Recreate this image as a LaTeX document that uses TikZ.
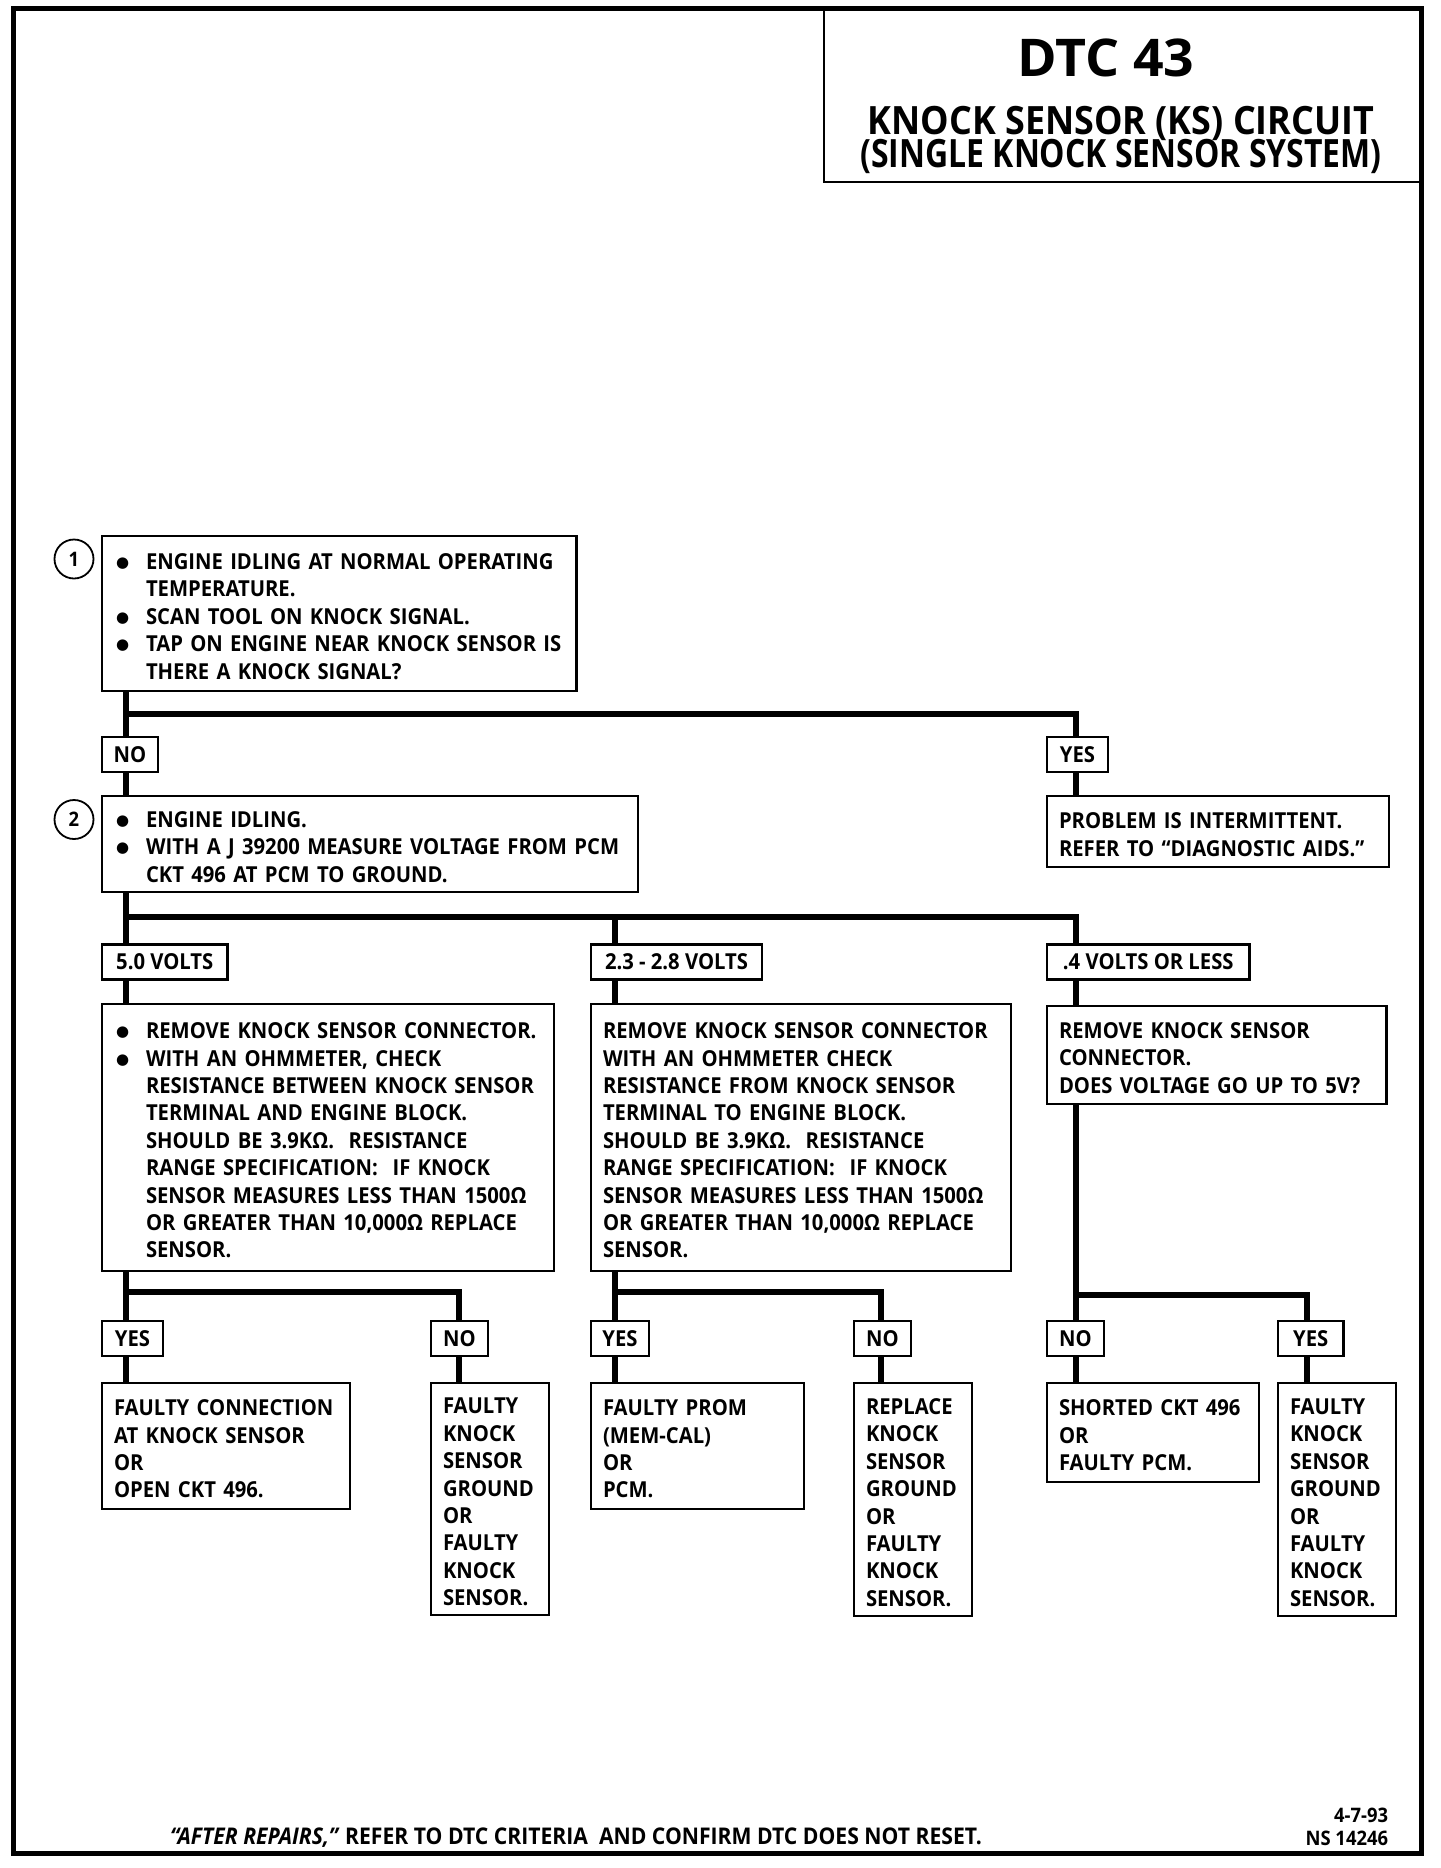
\documentclass[tikz,border=0pt]{standalone}
\usepackage{fontspec}
\newfontfamily\dfont{Open Sans}[FakeStretch=0.92]
\newfontfamily\symf{DejaVu Sans}
\newcommand\tightls{\lineskiplimit=-30pt\relax}
\tikzset{
  every node/.style={inner sep=0pt, outer sep=0pt},
  frame/.style={line width=2.5pt},
  box/.style={draw, line width=1.1pt, anchor=north west, align=left, inner xsep=6pt, inner ysep=0pt,
     font=\dfont\bfseries\fontsize{11}{13.7}\selectfont,
     execute at begin node={\rule{0pt}{11pt}}},
  bbox/.style={box, inner xsep=7pt},
  lbl/.style={draw, line width=1.1pt, anchor=north west, inner sep=0pt, align=center, minimum height=17.5pt,
     font=\dfont\bfseries\fontsize{11}{13.7}\selectfont},
  conn/.style={line width=3pt},
  stepnum/.style={draw, circle, line width=0.9pt, minimum size=19.5pt, font=\dfont\bfseries\fontsize{10}{12}\selectfont},
  ttl/.style={font=\dfont\bfseries},
  foot/.style={font=\dfont\bfseries\fontsize{10}{12}\selectfont},
}
\newcommand\bl{\makebox[15pt][l]{\raisebox{1.0pt}[0pt][0pt]{\symf\fontsize{7.5}{8}\selectfont ●}}}
\newcommand\ind{\hspace*{15pt}}
\begin{document}
\begin{tikzpicture}[x=0.5pt,y=-0.5pt]
\useasboundingbox (0,0) rectangle (1440,1868);
\fill[white] (0,0) rectangle (1440,1868);
\draw[frame] (13,9) rectangle (1421,1853);

% title
\node[draw, line width=1.1pt, anchor=north west, minimum width=298.5pt, minimum height=86.5pt] (title) at (824,9) {};
\node[ttl, font=\dfont\bfseries\fontsize{26}{28}\selectfont] (t1) at (1106,58) {\scalebox{1.12}[1]{DTC 43}};
\node[ttl, align=center, font=\dfont\bfseries\fontsize{19.5}{16.5}\selectfont\tightls] (t2) at (1121,140)
  {KNOCK SENSOR (KS) CIRCUIT\\ \scalebox{0.89}[1]{(SINGLE KNOCK SENSOR SYSTEM)}};

% step 1
\node[stepnum] (c1) at (74,559) {1};
\node[bbox, text width=223.25pt, minimum height=77.5pt] (s1) at (102,536) {%
\bl ENGINE IDLING AT NORMAL OPERATING\\
\ind TEMPERATURE.\\
\bl SCAN TOOL ON KNOCK SIGNAL.\\
\bl TAP ON ENGINE NEAR KNOCK SENSOR IS\\
\ind THERE A KNOCK SIGNAL?};

\node[lbl, minimum width=28pt] (no1) at (102,737) {NO};
\node[lbl, minimum width=30.5pt] (yes1) at (1047,737) {YES};

\node[box, text width=159pt, minimum height=35.5pt] (prob) at (1047,796) {%
PROBLEM IS INTERMITTENT.\\
REFER TO “DIAGNOSTIC AIDS.”};

% step 2
\node[stepnum] (c2) at (74,819.5) {2};
\node[bbox, text width=254pt, minimum height=48pt] (s2) at (102,796) {%
\bl ENGINE IDLING.\\
\bl WITH A J 39200 MEASURE VOLTAGE FROM PCM\\
\ind CKT 496 AT PCM TO GROUND.};

\node[lbl, minimum width=62.75pt] (v1) at (102,944.5) {5.0 VOLTS};
\node[lbl, minimum width=85.5pt] (v2) at (591,944.5) {2.3 - 2.8 VOLTS};
\node[lbl, minimum width=101.25pt] (v3) at (1047,944.5) {.4 VOLTS OR LESS};

\node[bbox, text width=212pt, minimum height=133.5pt] (ka) at (102,1004) {%
\bl REMOVE KNOCK SENSOR CONNECTOR.\\
\bl WITH AN OHMMETER, CHECK\\
\ind RESISTANCE BETWEEN KNOCK SENSOR\\
\ind TERMINAL AND ENGINE BLOCK.\\
\ind SHOULD BE 3.9KΩ.\ \ RESISTANCE\\
\ind RANGE SPECIFICATION:\ \ IF KNOCK\\
\ind SENSOR MEASURES LESS THAN 1500Ω\\
\ind OR GREATER THAN 10,000Ω REPLACE\\
\ind SENSOR.};

\node[box, text width=198pt, minimum height=133.5pt] (kb) at (591,1004) {%
REMOVE KNOCK SENSOR CONNECTOR\\
WITH AN OHMMETER CHECK\\
RESISTANCE FROM KNOCK SENSOR\\
TERMINAL TO ENGINE BLOCK.\\
SHOULD BE 3.9KΩ.\ \ RESISTANCE\\
RANGE SPECIFICATION:\ \ IF KNOCK\\
SENSOR MEASURES LESS THAN 1500Ω\\
OR GREATER THAN 10,000Ω REPLACE\\
SENSOR.};

\node[box, text width=157.75pt, minimum height=49pt] (kc) at (1047,1006) {%
REMOVE KNOCK SENSOR\\
CONNECTOR.\\
DOES VOLTAGE GO UP TO 5V?};

% third level labels
\node[lbl, minimum width=30.5pt] (ya) at (102,1321) {YES};
\node[lbl, minimum width=28.5pt] (na) at (431,1321) {NO};
\node[lbl, minimum width=29pt] (yb) at (591,1321) {YES};
\node[lbl, minimum width=28.5pt] (nb) at (854,1321) {NO};
\node[lbl, minimum width=28.5pt] (nc) at (1047,1321) {NO};
\node[lbl, minimum width=32.75pt] (yc) at (1278,1321) {YES};

% results
\node[box, text width=112pt, minimum height=63pt] (ra1) at (102,1383) {%
FAULTY CONNECTION\\ AT KNOCK SENSOR\\ OR\\ OPEN CKT 496.};
\node[box, text width=47pt, minimum height=116pt] (ra2) at (431,1383) {%
FAULTY\\ KNOCK\\ SENSOR\\ GROUND\\ OR\\ FAULTY\\ KNOCK\\ SENSOR.};
\node[box, text width=94.3pt, minimum height=63pt] (rb1) at (591,1383) {%
FAULTY PROM\\ (MEM-CAL)\\ OR\\ PCM.};
\node[box, text width=47pt, minimum height=116.5pt] (rb2) at (854,1383) {%
REPLACE\\ KNOCK\\ SENSOR\\ GROUND\\ OR\\ FAULTY\\ KNOCK\\ SENSOR.};
\node[box, text width=93.8pt, minimum height=49.5pt] (rc1) at (1047,1383) {%
SHORTED CKT 496\\ OR\\ FAULTY PCM.};
\node[box, text width=47pt, minimum height=116.5pt] (rc2) at (1278,1383) {%
FAULTY\\ KNOCK\\ SENSOR\\ GROUND\\ OR\\ FAULTY\\ KNOCK\\ SENSOR.};

% connectors level 1
\coordinate (j1) at (126,713.5);
\coordinate (j1r) at (1075.5,713.5);
\draw[conn] (s1.south -| j1) -- (no1.north -| j1);
\draw[conn] (j1) -- (j1r) -- (yes1.north -| j1r);
\draw[conn] (no1.south -| j1) -- (s2.north -| j1);
\draw[conn] (yes1.south -| j1r) -- (prob.north -| j1r);

% connectors level 2
\coordinate (j2) at (126,917);
\coordinate (j2m) at (614.6,917);
\coordinate (j2r) at (1075.5,917);
\draw[conn] (s2.south -| j2) -- (v1.north -| j2);
\draw[conn] (j2) -- (j2r) -- (v3.north -| j2r);
\draw[conn] (j2m) -- (v2.north -| j2m);
\draw[conn] (v1.south -| j2) -- (ka.north -| j2);
\draw[conn] (v2.south -| j2m) -- (kb.north -| j2m);
\draw[conn] (v3.south -| j2r) -- (kc.north -| j2r);

% connectors level 3
\coordinate (ja) at (126,1292);
\coordinate (jar) at (458.6,1292);
\draw[conn] (ka.south -| ja) -- (ya.north -| ja);
\draw[conn] (ja) -- (jar) -- (na.north -| jar);
\draw[conn] (ya.south -| ja) -- (ra1.north -| ja);
\draw[conn] (na.south -| jar) -- (ra2.north -| jar);

\coordinate (jb) at (614.6,1292);
\coordinate (jbr) at (881.4,1292);
\draw[conn] (kb.south -| jb) -- (yb.north -| jb);
\draw[conn] (jb) -- (jbr) -- (nb.north -| jbr);
\draw[conn] (yb.south -| jb) -- (rb1.north -| jb);
\draw[conn] (nb.south -| jbr) -- (rb2.north -| jbr);

\coordinate (jc) at (1075.5,1295);
\coordinate (jcr) at (1306.6,1295);
\draw[conn] (kc.south -| jc) -- (nc.north -| jc);
\draw[conn] (jc) -- (jcr) -- (yc.north -| jcr);
\draw[conn] (nc.south -| jc) -- (rc1.north -| jc);
\draw[conn] (yc.south -| jcr) -- (rc2.north -| jcr);

% footer
\node[foot, anchor=west, font=\dfont\bfseries\fontsize{11.5}{13}\selectfont] (ft) at (170,1838) {\textit{“AFTER REPAIRS,”} REFER TO DTC CRITERIA\ \ AND CONFIRM DTC DOES NOT RESET.};
\node[foot, anchor=east] (dt) at (1388,1815) {4-7-93};
\node[foot, anchor=east] (ns) at (1388,1838) {NS 14246};
\end{tikzpicture}
\end{document}
